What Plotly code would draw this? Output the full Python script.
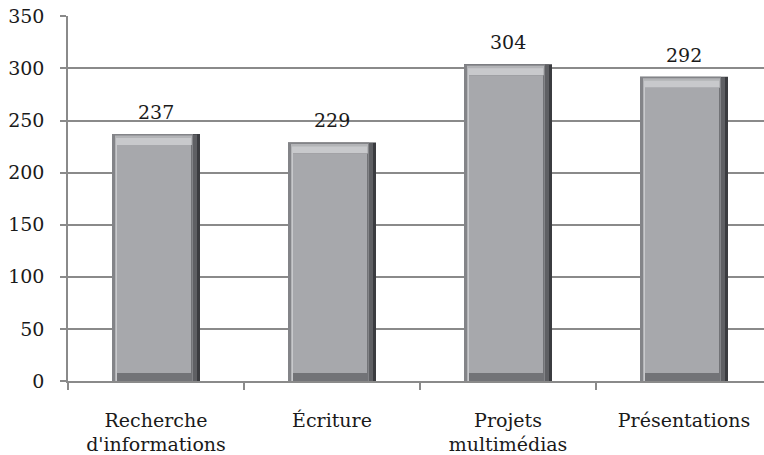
import plotly.graph_objects as go

categories = ["Recherche<br>d'informations", "Écriture", "Projets<br>multimédias", "Présentations"]
values = [237, 229, 304, 292]
y_ticks = [0, 50, 100, 150, 200, 250, 300, 350]

FONT = "DejaVu Serif"
W, H = 764, 455
ML, MB, MT = 68, 74, 16
plot_w = W - ML
cat_px = 176.0
x_hi = -0.5 + plot_w / cat_px
py = 350.0 / (H - MB - MT)  # data units per pixel

bw = 0.5
dx = 1.0 / cat_px

fig = go.Figure()


def layer(color, left_px, right_px, top_px, base_px=0.0):
    fig.add_trace(go.Bar(
        x=categories,
        y=[v - top_px * py - base_px * py for v in values],
        base=base_px * py,
        width=bw - (left_px + right_px) * dx,
        offset=-bw / 2 + left_px * dx,
        marker=dict(color=color, line=dict(width=0)),
        hoverinfo="skip", showlegend=False))


layer("#3b3c40", 0, 0, 0)          # outer dark body
layer("#5f6064", 0, 3, 0.5)        # right bevel mid
layer("#838488", 0, 7, 0)          # left bevel / top edge
layer("#b3b4b7", 3, 8, 1.5)        # top bevel outer
layer("#c8c9cc", 4, 9, 4)          # top bevel highlight
layer("#727377", 5, 8, 11)         # bottom bevel
layer("#a7a8ac", 5, 9, 11, 8)      # face

for c, v in zip(categories, values):
    fig.add_annotation(x=c, y=v, text=str(v), showarrow=False, yanchor="bottom", yshift=9,
                       font=dict(family=FONT, size=19, color="#1a1a1a"))

fig.update_layout(
    width=W, height=H, barmode="overlay",
    margin=dict(l=ML, r=0, t=MT, b=MB),
    plot_bgcolor="white", paper_bgcolor="white",
    font=dict(family=FONT, size=19, color="#1a1a1a"),
)
fig.update_xaxes(range=[-0.5, x_hi], showline=True, linecolor="#8a8a8a", linewidth=1.5,
                 ticks="outside", tickson="boundaries", ticklen=7, tickcolor="#8a8a8a", tickwidth=1.5,
                 showgrid=False, ticklabelstandoff=21, automargin=False,
                 tickfont=dict(family=FONT, size=19, color="#1a1a1a"))
fig.update_yaxes(range=[0, 350.3], tickvals=y_ticks, showline=True, linecolor="#8a8a8a", linewidth=1.5,
                 ticks="outside", ticklen=6, tickcolor="#8a8a8a", tickwidth=1.5,
                 showgrid=True, gridcolor="#8a8a8a", gridwidth=1.5, zeroline=False,
                 ticklabelstandoff=12, automargin=False, ticklabeloverflow="allow",
                 tickfont=dict(family=FONT, size=19, color="#1a1a1a"))

fig.write_html("out.html", config={"displayModeBar": False},
               post_script="document.body.style.margin='0';document.body.style.overflow='hidden';")
